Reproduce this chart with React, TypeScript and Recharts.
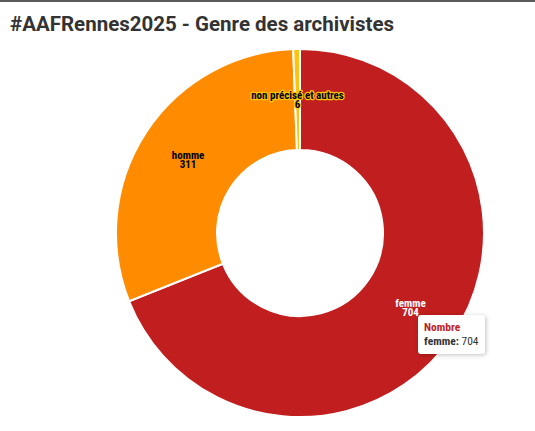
import React from "react";
import { PieChart, Pie, Cell, Tooltip } from "recharts";

const categories = ["femme", "homme", "non précisé et autres"];
const counts = [704, 311, 6];
const colors = ["#c11e1f", "#ff8c00", "#ffc20e"];
const seriesName = "Nombre";

const data = categories.map((name, i) => ({ name, value: counts[i] }));

const LABEL_FONT = "'Liberation Sans Narrow', 'Roboto Condensed', Roboto, sans-serif";

const RAD = Math.PI / 180;

const renderLabel = (p: any) => {
  const { cx, cy, midAngle, innerRadius, outerRadius, index } = p;
  const r = (innerRadius + outerRadius) / 2;
  const x = cx + r * Math.cos(-midAngle * RAD);
  const y = cy + r * Math.sin(-midAngle * RAD);
  const dark = index === 0;
  return (
    <text
      x={x}
      y={y}
      textAnchor="middle"
      fontFamily={LABEL_FONT}
      fontSize={11}
      fontWeight={700}
      fill={dark ? "#ffffff" : "#000000"}
      stroke={colors[index]}
      strokeWidth={2.5}
      paintOrder="stroke"
      strokeLinejoin="round"
    >
      <tspan x={x} dy={-1}>{data[index].name}</tspan>
      <tspan x={x} dy={9}>{data[index].value}</tspan>
    </text>
  );
};

const TT = ({ payload }: { payload?: any[] }) => {
  const d = payload && payload.length ? payload[0] : { name: data[0].name, value: data[0].value };
  return (
    <div
      style={{
        background: "#fff",
        borderRadius: 3,
        boxShadow: "1px 1px 4px rgba(0,0,0,0.25)",
        padding: "5px 6px 6px 6px",
        fontFamily: LABEL_FONT,
        fontSize: 11.5,
        lineHeight: "14px",
        color: "#333",
        whiteSpace: "nowrap",
      }}
    >
      <div style={{ color: "#c11e1f", fontWeight: 700 }}>{seriesName}</div>
      <div>
        <b>{d.name}:</b> {d.value}
      </div>
    </div>
  );
};

export default function App() {
  return (
    <div
      style={{
        position: "absolute",
        left: 0,
        top: 0,
        width: 535,
        height: 431,
        background: "#fff",
        borderTop: "2px solid #5a5a5a",
        boxSizing: "border-box",
        overflow: "hidden",
      }}
    >
      <div
        style={{
          position: "absolute",
          left: 10,
          top: 10,
          fontFamily: "Roboto, sans-serif",
          fontWeight: 700,
          fontSize: 20.5,
          color: "#333333",
          whiteSpace: "nowrap",
        }}
      >
        #AAFRennes2025 - Genre des archivistes
      </div>
      <div style={{ position: "absolute", left: 0, top: -2 }}>
        <PieChart width={535} height={431}>
          <Pie
            data={data}
            dataKey="value"
            nameKey="name"
            cx={295}
            cy={228}
            innerRadius={83}
            outerRadius={184}
            startAngle={90}
            endAngle={-270}
            stroke="#ffffff"
            strokeWidth={2}
            label={renderLabel}
            labelLine={false}
            isAnimationActive={false}
          >
            {data.map((_, i) => (
              <Cell key={i} fill={colors[i]} />
            ))}
          </Pie>
          <Tooltip
            content={<TT />}
            active={true}
            defaultIndex={0}
            position={{ x: 418, y: 315 }}
            isAnimationActive={false}
            wrapperStyle={{ transition: "none" }}
          />
        </PieChart>
      </div>
    </div>
  );
}
